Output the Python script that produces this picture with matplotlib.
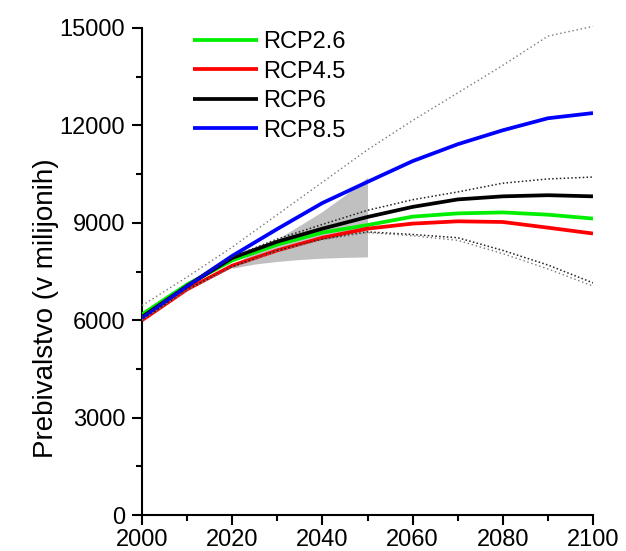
import numpy as np
import matplotlib
matplotlib.use("Agg")
import matplotlib.pyplot as plt

plt.rcParams['font.family'] = ['Liberation Sans', 'DejaVu Sans']

# Data (population, millions)
years = [2000, 2010, 2020, 2030, 2040, 2050, 2060, 2070, 2080, 2090, 2100]
rcp26 = [6180, 7100, 7840, 8330, 8700, 8930, 9190, 9290, 9320, 9250, 9130]
rcp45 = [6000, 6950, 7680, 8150, 8540, 8820, 8975, 9046, 9025, 8850, 8670]
rcp6 = [6100, 7050, 7920, 8420, 8820, 9180, 9490, 9720, 9815, 9850, 9815]
rcp85 = [6070, 7050, 7980, 8810, 9610, 10260, 10900, 11420, 11850, 12220, 12380]

# Uncertainty envelopes (dotted)
upper_outer = [6450, 7330, 8250, 9250, 10250, 11250, 12150, 13000, 13850, 14750, 15050]
upper_inner = [6100, 7100, 7950, 8500, 8950, 9385, 9710, 9950, 10220, 10350, 10410]
lower_a = [6000, 6950, 7650, 8150, 8500, 8720, 8640, 8540, 8150, 7700, 7150]
lower_b = [6000, 6930, 7630, 8130, 8480, 8700, 8600, 8460, 8050, 7580, 7050]

# Shaded range 2020-2050
shade_years = [2020, 2025, 2030, 2035, 2040, 2045, 2050]
shade_low = [7600, 7730, 7810, 7870, 7910, 7935, 7950]
shade_high = [7700, 8100, 8500, 8920, 9350, 9850, 10400]

labels = ['RCP2.6', 'RCP4.5', 'RCP6', 'RCP8.5']
series = [rcp26, rcp45, rcp6, rcp85]
line_colors = ['#00ee00', '#ff0000', '#000000', '#0000ff']

fig = plt.figure(figsize=(6.26, 5.51), dpi=100)
ax = fig.add_axes([142 / 626, 36 / 551, 451 / 626, 487 / 551])

ax.fill_between(shade_years, shade_low, shade_high, color='#c0c0c0', lw=0, zorder=1)

for s, lab, c in zip(series, labels, line_colors):
    ax.plot(years, s, color=c, lw=2.7, label=lab, zorder=3, solid_capstyle='butt')

ax.plot(years, upper_outer, color='#777777', lw=1.0, ls=(0, (1, 2)), zorder=4, clip_on=False)
ax.plot(years, upper_inner, color='#222222', lw=1.1, ls=(0, (1, 1.5)), zorder=4)
ax.plot(years, lower_a, color='#222222', lw=1.1, ls=(0, (1, 1.5)), zorder=4)
ax.plot(years, lower_b, color='#777777', lw=1.0, ls=(0, (1, 2)), zorder=4)

ax.set_xlim(2000, 2100)
ax.set_ylim(0, 15000)
ax.set_xticks(np.arange(2000, 2101, 20))
ax.set_xticks(np.arange(2000, 2101, 10), minor=True)
ax.set_yticks(np.arange(0, 15001, 3000))
ax.set_yticks(np.arange(0, 15001, 1500), minor=True)

for side in ['top', 'right']:
    ax.spines[side].set_visible(False)
for side in ['left', 'bottom']:
    ax.spines[side].set_linewidth(1.5)

ax.tick_params(which='major', direction='out', length=7, width=1.5, labelsize=17, pad=5)
ax.tick_params(axis='x', which='major', pad=3)
ax.tick_params(which='minor', direction='out', length=4, width=1.5)

fig.text(46 / 626, 1 - 308 / 551, 'Prebivalstvo (v milijonih)', rotation=90,
         ha='center', va='center', fontsize=20)

ax.legend(loc='upper left', bbox_to_anchor=(193 / 626, 1 - 31 / 551),
          bbox_transform=fig.transFigure, frameon=False, fontsize=17,
          handlelength=2.75, handletextpad=0.2, labelspacing=0.32,
          borderpad=0, borderaxespad=0)

fig.savefig('out.png', dpi=100)
